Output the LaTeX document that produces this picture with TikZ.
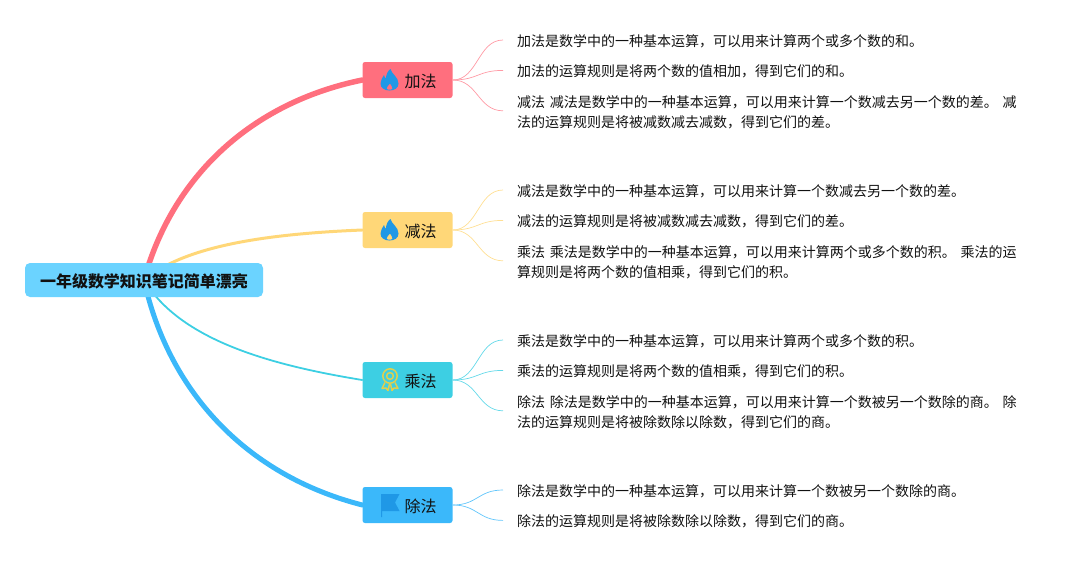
\documentclass[tikz,border=0pt]{standalone}
\usepackage{fontspec}
\setmainfont{Noto Sans CJK SC}
\usepackage{xcolor}
\usepackage{tikz}
\usetikzlibrary{positioning,backgrounds}
\definecolor{maproot}{HTML}{6BD3FF}
\definecolor{mapred}{HTML}{FF6F7E}
\definecolor{mapyellow}{HTML}{FFD778}
\definecolor{mapteal}{HTML}{3DCFE3}
\definecolor{mapblue}{HTML}{3BB8FA}
\definecolor{iconblue}{HTML}{1F98E6}
\definecolor{icongold}{HTML}{E0D04E}
\definecolor{inktext}{HTML}{111111}
\newcommand{\leaffont}{\fontsize{14}{20}\selectfont\spaceskip 3.6pt\relax}
\tikzset{
  rootnode/.style={rounded corners=5pt, fill=maproot, minimum width=238pt, minimum height=34pt, inner sep=0pt, text height=16pt, text depth=1.8pt, text=inktext, font=\fontsize{16}{20}\selectfont\bfseries},
  branchnode/.style={rounded corners=2.5pt, minimum width=90pt, minimum height=36pt, inner sep=0pt, text height=16pt, text depth=1.8pt, text=inktext, font=\fontsize{16}{20}\selectfont},
  leafnode/.style={anchor=west, text width=530pt, minimum height=20pt, inner xsep=14pt, inner ysep=0pt, align=left, text=inktext, font=\leaffont},
  leaftwo/.style={leafnode, minimum height=40pt},
  trunkedge/.style={line cap=round},
  twigedge/.style={line width=0.7pt},
  flameicon/.pic={
    \fill[iconblue, even odd rule] (1,-11) .. controls (2,-6) and (9,-3) .. (9,3.5) .. controls (9,8) and (5,10.5) .. (0,10.5) .. controls (-5,10.5) and (-9,8) .. (-9,3.5) .. controls (-9,0) and (-7,-2) .. (-5.5,-5) .. controls (-5,-3) and (-4.5,-2) .. (-3.5,-1.5) .. controls (-3.5,-5) and (-2,-9) .. (1,-11) -- cycle
      (0.5,3.5) .. controls (1,5.5) and (3.5,6.5) .. (3,8.5) .. controls (2.6,10.2) and (-2.6,10.2) .. (-3,8.5) .. controls (-3.4,6.8) and (-0.5,5.5) .. (0.5,3.5) -- cycle;
  },
  badgeicon/.pic={
    \draw[icongold, line width=1.5pt] (0,-4) circle (7.2pt);
    \draw[icongold, line width=1.5pt] (0,-4) circle (3.4pt);
    \draw[icongold, line width=1.5pt, line join=round] (-5,2.5) -- (-8,8.5) -- (-4,8) -- (-2,10.5) -- (-0.5,4);
    \draw[icongold, line width=1.5pt, line join=round] (5,2.5) -- (8,8.5) -- (4,8) -- (2,10.5) -- (0.5,4);
  },
  flagicon/.pic={
    \fill[iconblue] (-9,-11) -- (9.5,-11) -- (5,-2.5) -- (9.5,6) -- (-8,6) -- (-8,12) -- (-9,12) -- cycle;
  }
}
\begin{document}
\begin{tikzpicture}[x=1pt,y=-1pt]
  \useasboundingbox (0,0) rectangle (1077,560);
  \node[rootnode] (root) at (144,280) {一年级数学知识笔记简单漂亮};
  \node[branchnode, fill=mapred] (add) at (407.5,80) {\hspace*{26pt}加法};
  \node[branchnode, fill=mapyellow] (sub) at (407.5,230) {\hspace*{26pt}减法};
  \node[branchnode, fill=mapteal] (mul) at (407.5,380) {\hspace*{26pt}乘法};
  \node[branchnode, fill=mapblue] (div) at (407.5,505) {\hspace*{26pt}除法};
  \pic at (389.5,80) {flameicon};
  \pic at (389.5,230) {flameicon};
  \pic at (390,380) {badgeicon};
  \pic at (390,505) {flagicon};

  \node[leafnode] (add1) at (503,41.2) {加法是数学中的一种基本运算，可以用来计算两个或多个数的和。};
  \node[leafnode, below=10pt of add1] (add2) {加法的运算规则是将两个数的值相加，得到它们的和。};
  \node[leaftwo, below=10pt of add2] (add3) {减法 减法是数学中的一种基本运算，可以用来计算一个数减去另一个数的差。 减\\法的运算规则是将被减数减去减数，得到它们的差。};

  \node[leafnode] (sub1) at (503,191.2) {减法是数学中的一种基本运算，可以用来计算一个数减去另一个数的差。};
  \node[leafnode, below=10pt of sub1] (sub2) {减法的运算规则是将被减数减去减数，得到它们的差。};
  \node[leaftwo, below=10pt of sub2] (sub3) {乘法 乘法是数学中的一种基本运算，可以用来计算两个或多个数的积。 乘法的运\\算规则是将两个数的值相乘，得到它们的积。};

  \node[leafnode] (mul1) at (503,341.2) {乘法是数学中的一种基本运算，可以用来计算两个或多个数的积。};
  \node[leafnode, below=10pt of mul1] (mul2) {乘法的运算规则是将两个数的值相乘，得到它们的积。};
  \node[leaftwo, below=10pt of mul2] (mul3) {除法 除法是数学中的一种基本运算，可以用来计算一个数被另一个数除的商。 除\\法的运算规则是将被除数除以除数，得到它们的商。};

  \node[leafnode] (div1) at (503,491.2) {除法是数学中的一种基本运算，可以用来计算一个数被另一个数除的商。};
  \node[leafnode, below=10pt of div1] (div2) {除法的运算规则是将被除数除以除数，得到它们的商。};

  \begin{scope}[on background layer]
    \draw[trunkedge, draw=mapred, line width=5.5pt] (root.center) .. controls (172,178) and (250,103) .. (add.west);
    \draw[trunkedge, draw=mapyellow, line width=3pt] (root.center) .. controls (185,246) and (265,234) .. (sub.west);
    \draw[trunkedge, draw=mapteal, line width=1.8pt] (root.center) .. controls (180,340) and (270,365) .. (mul.west);
    \draw[trunkedge, draw=mapblue, line width=5pt] (root.center) .. controls (168,390) and (245,475) .. (div.west);
  \end{scope}

  \draw[twigedge, draw=mapred!70] (add.east) .. controls +(25,0) and +(-25,0) .. ([yshift=1.2pt]add1.west);
  \draw[twigedge, draw=mapred!70] (add.east) .. controls +(25,0) and +(-25,0) .. ([yshift=1.2pt]add2.west);
  \draw[twigedge, draw=mapred!70] (add.east) .. controls +(25,0) and +(-25,0) .. ([yshift=1.2pt]add3.west);
  \draw[twigedge, draw=mapyellow!80] (sub.east) .. controls +(25,0) and +(-25,0) .. ([yshift=1.2pt]sub1.west);
  \draw[twigedge, draw=mapyellow!80] (sub.east) .. controls +(25,0) and +(-25,0) .. ([yshift=1.2pt]sub2.west);
  \draw[twigedge, draw=mapyellow!80] (sub.east) .. controls +(25,0) and +(-25,0) .. ([yshift=1.2pt]sub3.west);
  \draw[twigedge, draw=mapteal!80] (mul.east) .. controls +(25,0) and +(-25,0) .. ([yshift=1.2pt]mul1.west);
  \draw[twigedge, draw=mapteal!80] (mul.east) .. controls +(25,0) and +(-25,0) .. ([yshift=1.2pt]mul2.west);
  \draw[twigedge, draw=mapteal!80] (mul.east) .. controls +(25,0) and +(-25,0) .. ([yshift=1.2pt]mul3.west);
  \draw[twigedge, draw=mapblue!80] (div.east) .. controls +(25,0) and +(-25,0) .. ([yshift=1.2pt]div1.west);
  \draw[twigedge, draw=mapblue!80] (div.east) .. controls +(25,0) and +(-25,0) .. ([yshift=1.2pt]div2.west);
\end{tikzpicture}
\end{document}
